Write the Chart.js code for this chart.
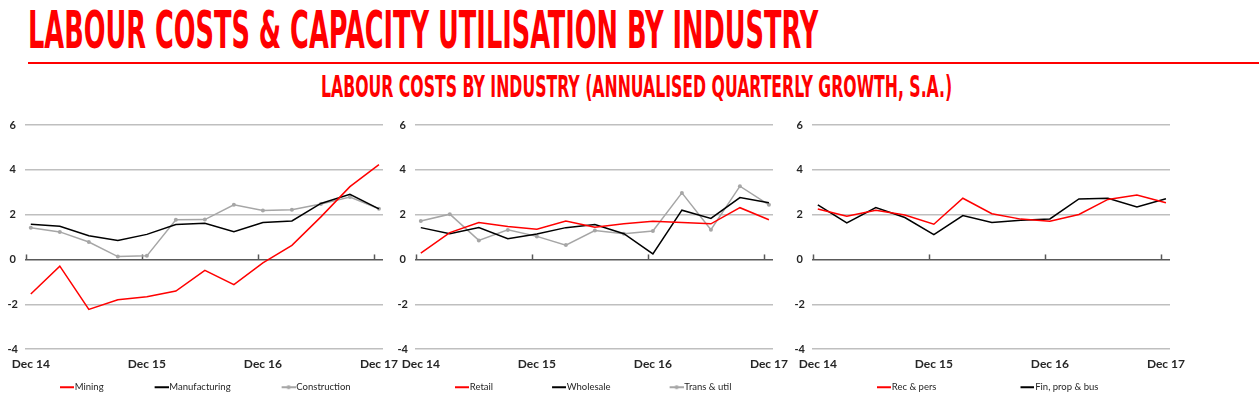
<!DOCTYPE html>
<html lang="en">
<head>
<meta charset="UTF-8">
<script src="https://cdn.jsdelivr.net/npm/chart.js"></script>
<title>Labour costs by industry</title>
<style>
  body { margin: 0; width: 1259px; height: 398px; overflow: hidden; background: #fff; position: relative; font-family: Lato, sans-serif; }
  .head { position: absolute; white-space: nowrap; color: #ff0000; font-family: "Liberation Sans Narrow", "DejaVu Sans Condensed", sans-serif; font-weight: bold; transform-origin: 0 0; }
  #title { left: 28px; top: 4px; font-size: 52px; line-height: 52px; }
  #sub { left: 321px; top: 72px; font-size: 30px; line-height: 30px; }
  #rule { position: absolute; left: 28px; right: 0; top: 62px; height: 2px; background: #ff0000; }
  canvas { position: absolute; top: 110px; }
</style>
</head>
<body>
  <span class="head" id="title" data-w="790">LABOUR COSTS &amp; CAPACITY UTILISATION BY INDUSTRY</span>
  <div id="rule"></div>
  <span class="head" id="sub" data-w="631">LABOUR COSTS BY INDUSTRY (ANNUALISED QUARTERLY GROWTH, S.A.)</span>
  <canvas id="c1" width="408" height="292"></canvas>
  <canvas id="c2" width="408" height="292"></canvas>
  <canvas id="c3" width="408" height="292"></canvas>
<script>
// quarters Dec 14 .. Dec 17
const quarters = ['Dec 14','Mar 15','Jun 15','Sep 15','Dec 15','Mar 16','Jun 16','Sep 16','Dec 16','Mar 17','Jun 17','Sep 17','Dec 17'];
const tickLabels = ['Dec 14', 'Dec 15', 'Dec 16', 'Dec 17'];
const tickIdx = [0, 4, 8, 12];
const tickShift = -0.16; // excel puts the tick marks a bit left of the point

const mining        = [-1.54, -0.30, -2.23, -1.80, -1.66, -1.41, -0.49, -1.12, -0.15, 0.63, 1.90, 3.25, 4.23];
const manufacturing = [1.57, 1.48, 1.06, 0.85, 1.12, 1.56, 1.62, 1.24, 1.65, 1.72, 2.50, 2.91, 2.26];
const construction  = [1.42, 1.23, 0.78, 0.13, 0.16, 1.77, 1.78, 2.44, 2.19, 2.22, 2.47, 2.79, 2.26];

const retail    = [0.28, 1.20, 1.65, 1.47, 1.35, 1.71, 1.44, 1.59, 1.71, 1.65, 1.59, 2.31, 1.77];
const wholesale = [1.42, 1.15, 1.42, 0.93, 1.14, 1.42, 1.56, 1.15, 0.25, 2.20, 1.83, 2.76, 2.53];
const transUtil = [1.72, 2.02, 0.85, 1.32, 1.03, 0.64, 1.29, 1.15, 1.27, 2.97, 1.33, 3.27, 2.44];

const recPers    = [2.25, 1.93, 2.20, 1.98, 1.57, 2.73, 2.04, 1.80, 1.71, 2.01, 2.68, 2.88, 2.53];
const finPropBus = [2.44, 1.63, 2.32, 1.87, 1.11, 1.96, 1.65, 1.75, 1.81, 2.70, 2.73, 2.34, 2.71];

// squeeze the headings to the width of the original
document.querySelectorAll('.head').forEach(el => {
  el.style.transform = 'scaleX(' + (el.dataset.w / el.offsetWidth) + ')';
});

const zeroTicks = {
  id: 'zeroTicks',
  beforeDatasetsDraw(chart) {
    const {ctx, scales: {x, y}} = chart;
    const y0 = y.getPixelForValue(0);
    ctx.save();
    ctx.strokeStyle = '#595959';
    ctx.lineWidth = 1.5;
    tickIdx.forEach(v => {
      const px = Math.round(x.getPixelForValue(v + tickShift)) + 0.5;
      ctx.beginPath();
      ctx.moveTo(px, y0 - 5);
      ctx.lineTo(px, y0);
      ctx.stroke();
    });
    ctx.restore();
  }
};

// nudge the legend sideways without touching the plot
const legendShift = {
  id: 'legendShift',
  afterLayout(chart, args, opts) {
    const l = chart.legend;
    if (!l) return;
    l.left += opts.dx || 0;
    l.right += opts.dx || 0;
  }
};

// legend icon: blank space on the left, short line right before the text
function legendIcon(color, marker, B) {
  const c = document.createElement('canvas');
  c.width = B + 8;
  c.height = 8;
  const g = c.getContext('2d');
  g.strokeStyle = color;
  g.lineWidth = 2;
  g.beginPath();
  g.moveTo(B - 6, 4);
  g.lineTo(B + 8, 4);
  g.stroke();
  if (marker) {
    g.fillStyle = color;
    g.beginPath();
    g.arc(B + 1, 4, 2, 0, Math.PI * 2);
    g.fill();
  }
  return c;
}

function makePanel(id, left, names, series, colors, markers, B, dx) {
  const cv = document.getElementById(id);
  cv.style.left = left + 'px';
  new Chart(cv, {
    type: 'line',
    data: {
      datasets: names.map((n, k) => ({
        label: n,
        data: series[k].map((v, i) => ({x: i, y: v})),
        borderColor: colors[k],
        backgroundColor: colors[k],
        borderWidth: 1.5,
        tension: 0,
        pointRadius: markers[k] ? 2 : 0,
        pointHoverRadius: 0,
        pointBorderWidth: 0
      }))
    },
    options: {
      responsive: false,
      animation: false,
      devicePixelRatio: 1,
      layout: {padding: {top: 15, left: 0, right: 0, bottom: 0}},
      plugins: {
        legendShift: {dx: dx},
        legend: {
          position: 'bottom',
          align: 'start',
          labels: {
            usePointStyle: true,
            pointStyleWidth: B,
            padding: 3,
            color: '#262626',
            font: {family: 'Lato', size: 9.5},
            generateLabels(chart) {
              const items = Chart.defaults.plugins.legend.labels.generateLabels(chart);
              items.forEach((it, k) => {
                it.pointStyle = legendIcon(colors[k], markers[k], B);
                it.lineWidth = 0;
              });
              return items;
            }
          }
        },
        tooltip: {enabled: false}
      },
      scales: {
        x: {
          type: 'linear',
          min: -0.2,
          max: 12.14,
          grid: {display: false, drawTicks: false},
          border: {display: false},
          afterBuildTicks: s => { s.ticks = tickIdx.map(v => ({value: v})); },
          ticks: {
            autoSkip: false,
            maxRotation: 0,
            padding: 8,
            color: '#262626',
            font: {family: 'Lato', size: 12, weight: 'bold'},
            callback: (v, i) => tickLabels[i]
          }
        },
        y: {
          min: -4,
          max: 6,
          afterFit: s => { s.width = 25; },
          border: {display: false},
          grid: {
            drawTicks: false,
            color: c => c.tick.value === 0 ? '#595959' : '#bfbfbf',
            lineWidth: 1.5
          },
          ticks: {
            stepSize: 2,
            padding: 7,
            crossAlign: 'center',
            color: '#262626',
            font: {family: 'Lato', size: 11, weight: 'bold'}
          }
        },
        yR: {
          position: 'right',
          min: -4,
          max: 6,
          afterFit: s => { s.width = 25; },
          grid: {display: false, drawTicks: false},
          border: {display: false},
          ticks: {display: false}
        }
      }
    },
    plugins: [zeroTicks, legendShift]
  });
}

makePanel('c1', 0, ['Mining', 'Manufacturing', 'Construction'],
  [mining, manufacturing, construction], ['#ff0000', '#000000', '#a6a6a6'], [false, false, true], 58, 9);
makePanel('c2', 390, ['Retail', 'Wholesale', 'Trans & util'],
  [retail, wholesale, transUtil], ['#ff0000', '#000000', '#a6a6a6'], [false, false, true], 66, 6);
makePanel('c3', 787, ['Rec & pers', 'Fin, prop & bus'],
  [recPers, finPropBus], ['#ff0000', '#000000'], [false, false], 91, 6);
</script>
</body>
</html>
